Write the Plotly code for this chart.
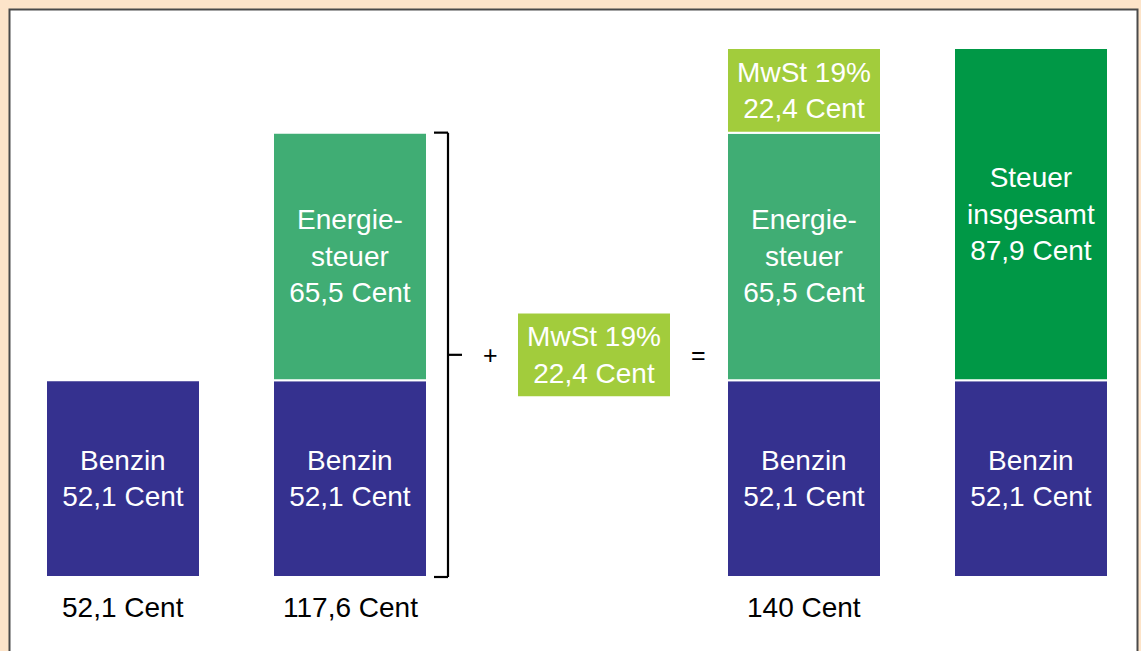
import plotly.graph_objects as go

# ---- data ----
columns = ["Benzin", "Benzin + Energiesteuer", "MwSt", "Endpreis", "Steueranteil"]
benzin = [52.1, 52.1, None, 52.1, 52.1]
energiesteuer = [None, 65.5, None, 65.5, None]
mwst = [None, None, 22.4, 22.4, None]
steuer_gesamt = [None, None, None, None, 87.9]
bottom_labels_for = [0, 1, 3]

# ---- layout constants (positions / styles) ----
W, H = 1141, 651
x_pos = [123, 350, 594, 804, 1031]
bar_w = 154
px_per_cent = (576 - 47) / 140.0
y_top = 577 / px_per_cent
y_bot = -(H - 577) / px_per_cent

C_BENZIN = "#35318f"
C_ENERGIE = "#40ad74"
C_MWST = "#a2cc3c"
C_STEUER = "#009846"
BG = "#fde4c9"
FONT = "Liberation Sans, Arial, Helvetica, sans-serif"
FS = 28


def de(v):
    s = f"{v:.1f}"
    if s.endswith(".0"):
        s = s[:-2]
    return s.replace(".", ",")


fig = go.Figure()

# base for floating MwSt bar: centred on the middle of the bracket (column 2 total)
col2_total = benzin[1] + energiesteuer[1]
mwst_float_base = col2_total / 2 - mwst[2] / 2


def add_segment(vals, bases, color, texts):
    xs, ys, bs, ts = [], [], [], []
    for i, v in enumerate(vals):
        if v is None:
            continue
        xs.append(x_pos[i]); ys.append(v); bs.append(bases[i]); ts.append(texts(i, v))
    fig.add_trace(go.Bar(
        x=xs, y=ys, base=bs, width=bar_w,
        marker=dict(color=color, line=dict(color="white", width=2)),
        text=ts, textposition="inside", insidetextanchor="middle",
        constraintext="none",
        textfont=dict(color="white", size=FS, family=FONT),
        hoverinfo="skip", showlegend=False,
    ))


zero = [0] * 5
add_segment(benzin, zero, C_BENZIN, lambda i, v: f"Benzin<br>{de(v)} Cent")

base_e = [benzin[i] if benzin[i] else 0 for i in range(5)]
add_segment(energiesteuer, base_e, C_ENERGIE,
            lambda i, v: f"Energie-<br>steuer<br>{de(v)} Cent")

base_m = []
for i in range(5):
    if i == 2:
        base_m.append(mwst_float_base)
    else:
        base_m.append((benzin[i] or 0) + (energiesteuer[i] or 0))
add_segment(mwst, base_m, C_MWST, lambda i, v: f"MwSt 19%<br>{de(v)} Cent")

add_segment(steuer_gesamt, base_e, C_STEUER,
            lambda i, v: f"Steuer<br>insgesamt<br>{de(v)} Cent")

# bottom total labels
for i in bottom_labels_for:
    total = sum(v[i] or 0 for v in (benzin, energiesteuer, mwst, steuer_gesamt))
    fig.add_annotation(x=x_pos[i], y=-8.2, text=f"{de(total)} Cent", showarrow=False,
                       font=dict(color="black", size=FS, family=FONT),
                       xanchor="center", yanchor="middle")

# bracket
bx = 448
blk = dict(color="black", width=2.2)
fig.add_shape(type="line", x0=bx, x1=bx, y0=0, y1=col2_total, line=blk)
fig.add_shape(type="line", x0=bx - 14, x1=bx, y0=col2_total, y1=col2_total, line=blk)
fig.add_shape(type="line", x0=bx - 14, x1=bx, y0=0, y1=0, line=blk)
fig.add_shape(type="line", x0=bx, x1=bx + 14, y0=col2_total / 2, y1=col2_total / 2, line=blk)

fig.add_annotation(x=490, y=col2_total / 2, text="+", showarrow=False,
                   font=dict(color="black", size=25, family=FONT))
fig.add_annotation(x=698, y=col2_total / 2, text="=", showarrow=False,
                   font=dict(color="black", size=25, family=FONT))

# frame
fig.add_shape(type="rect", xref="paper", yref="paper",
              x0=9.5 / W, x1=1137.5 / W, y0=-0.05, y1=1 - 9.5 / H,
              fillcolor="white", line=dict(color="#4a4a4a", width=2), layer="below")

fig.update_layout(
    width=W, height=H,
    margin=dict(l=0, r=0, t=0, b=0),
    paper_bgcolor=BG, plot_bgcolor="rgba(0,0,0,0)",
    barmode="overlay",
    xaxis=dict(range=[0, W], visible=False, fixedrange=True),
    yaxis=dict(range=[y_bot, y_top], visible=False, fixedrange=True),
    font=dict(family=FONT),
)

fig.write_html(
    "out.html",
    config={"displayModeBar": False},
    post_script=f"document.body.style.margin='0';document.body.style.background='{BG}';document.body.style.overflow='hidden';",
)
